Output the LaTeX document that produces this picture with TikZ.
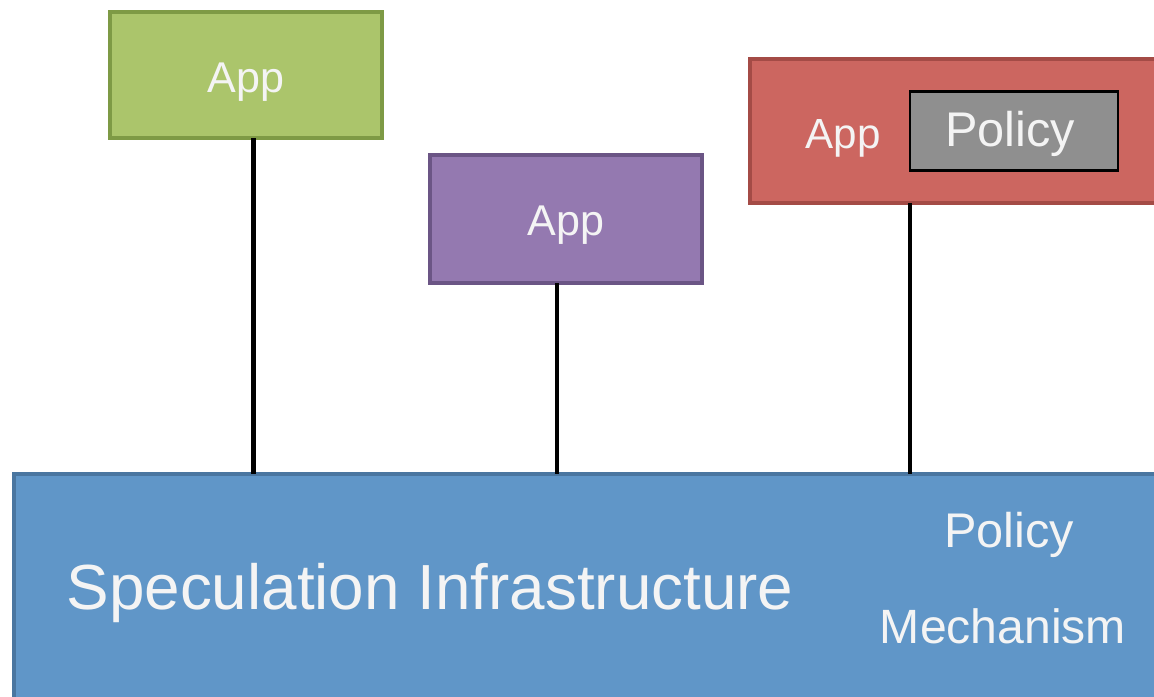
\documentclass[tikz,border=0pt]{standalone}
\usepackage{fontspec}
\setmainfont{Liberation Sans}
\usetikzlibrary{calc}
\definecolor{appgreen}{HTML}{ABC56B}
\definecolor{appgreenline}{HTML}{7E9A45}
\definecolor{apppurple}{HTML}{9479B0}
\definecolor{apppurpleline}{HTML}{6B5585}
\definecolor{appred}{HTML}{CC6660}
\definecolor{appredline}{HTML}{A44B46}
\definecolor{policygray}{HTML}{8F8F8F}
\definecolor{infrablue}{HTML}{6096C8}
\definecolor{infrablueline}{HTML}{4A76A0}
\definecolor{textwhite}{HTML}{F4F4F4}
\tikzset{
  box/.style={draw, line width=2.2pt, inner sep=0pt, outer sep=0pt, anchor=north west},
  label/.style={text=textwhite, inner sep=0pt},
  stem/.style={line width=2.8pt, black}
}

\begin{document}
\begin{tikzpicture}[x=0.02cm, y=-0.02cm]
		%%%%% START %%%%%
		
		\clip (0, 0) rectangle (1154, 697);
		
		\node[box, fill=appgreen, draw=appgreenline, minimum width=272*0.02cm, minimum height=126*0.02cm] (green) at (110, 12) {};
		\node[label, font=\fontsize{24.5}{28}\selectfont] (greenapp) at (246, 82) {App};
		
		\node[box, fill=apppurple, draw=apppurpleline, minimum width=272*0.02cm, minimum height=128*0.02cm] (purple) at (430, 155) {};
		\node[label, font=\fontsize{24.5}{28}\selectfont] (purpleapp) at (566, 225) {App};
		
		\node[box, fill=appred, draw=appredline, minimum width=460*0.02cm, minimum height=144*0.02cm] (red) at (750, 59) {};
		\node[label, font=\fontsize{24}{28}\selectfont] (redapp) at (843, 138) {App};
		\node[box, fill=policygray, draw=black, line width=1.2pt, minimum width=208*0.02cm, minimum height=79*0.02cm] (policy) at (910, 91.5) {};
		\node[label, font=\fontsize{27.7}{32}\selectfont] (policytext) at (1010, 134) {Policy};
		
		\node[box, fill=infrablue, draw=infrablueline, minimum width=1200*0.02cm, minimum height=260*0.02cm] (infra) at (14, 474) {};
		\node[label, font=\fontsize{36.3}{42}\selectfont] (infratext) at (430, 593) {Speculation Infrastructure};
		\node[label, font=\fontsize{27.7}{32}\selectfont] (infrapolicy) at (1009, 535) {Policy};
		\node[label, font=\fontsize{27.4}{32}\selectfont] (infamech) at (1003, 626) {Mechanism};
		
		\draw[stem] ($(green.south west)!0.526!(green.south east)$) coordinate (g1) -- (g1 |- infra.north);
		\draw[stem] ($(purple.south west)!0.467!(purple.south east)$) coordinate (p1) -- (p1 |- infra.north);
		\draw[stem] (red.south west) ++(160, 0) coordinate (r1) -- (r1 |- infra.north);
		
		%%%%% END %%%%%
	\end{tikzpicture}
\end{document}
